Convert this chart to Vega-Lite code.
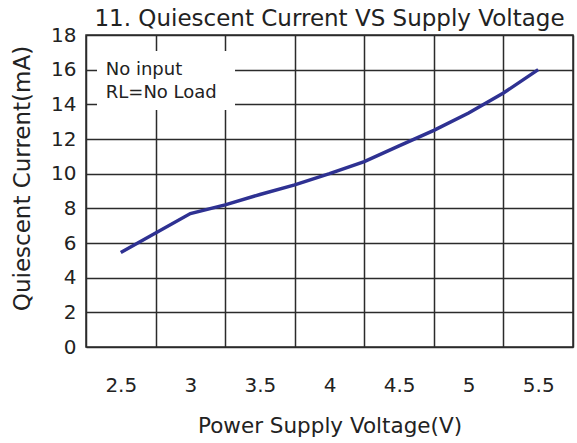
{
  "$schema": "https://vega.github.io/schema/vega-lite/v6.json",
  "autosize": {"type": "none"},
  "width": 487,
  "height": 312,
  "padding": {"left": 86, "top": 35, "right": 4, "bottom": 96},
  "background": "white",
  "config": {
    "font": "DejaVu Sans",
    "view": {"stroke": "#2b2b2b", "strokeWidth": 1.5},
    "axis": {"labelFont": "DejaVu Sans", "titleFont": "DejaVu Sans", "labelColor": "#222", "titleColor": "#222", "titleFontWeight": "normal", "gridColor": "#2b2b2b", "gridWidth": 1.5, "gridOpacity": 1, "labelOverlap": false}
  },
  "title": {"text": "11. Quiescent Current VS Supply Voltage", "fontSize": 23, "fontWeight": "normal", "color": "#222", "anchor": "middle", "offset": -6, "font": "DejaVu Sans"},
  "datasets": {
    "curve": [
      {"voltage": 2.5, "current": 5.45},
      {"voltage": 3.0, "current": 7.7},
      {"voltage": 3.25, "current": 8.2},
      {"voltage": 3.5, "current": 8.8},
      {"voltage": 3.75, "current": 9.35},
      {"voltage": 4.0, "current": 10.0},
      {"voltage": 4.25, "current": 10.7},
      {"voltage": 4.5, "current": 11.6},
      {"voltage": 4.75, "current": 12.5},
      {"voltage": 5.0, "current": 13.5},
      {"voltage": 5.25, "current": 14.65},
      {"voltage": 5.5, "current": 16.0}
    ],
    "notes": [
      {"label": "No input", "voltage": 2.392, "current": 16.0},
      {"label": "RL=No Load", "voltage": 2.392, "current": 14.67}
    ],
    "box": [
      {"voltage": 2.329, "voltage_end": 3.321, "current": 13.67, "current_end": 17.08}
    ]
  },
  "encoding": {
    "x": {"field": "voltage", "type": "quantitative", "scale": {"domain": [2.25, 5.75], "nice": false, "zero": false},
      "axis": {
        "values": [2.25, 2.5, 2.75, 3.0, 3.25, 3.5, 3.75, 4.0, 4.25, 4.5, 4.75, 5.0, 5.25, 5.5, 5.75],
        "format": "~g",
        "labelExpr": "round(datum.value*4)%2==1 ? '' : datum.label",
        "gridOpacity": {"condition": {"test": "round(datum.value*4)%2==1", "value": 1}, "value": 0},
        "ticks": false, "domain": false, "labelFontSize": 20, "labelPadding": 28, "labelFlush": false, "labelOverlap": false,
        "title": "Power Supply Voltage(V)", "titleFontSize": 21.5, "titlePadding": 20
      }},
    "y": {"field": "current", "type": "quantitative", "scale": {"domain": [0, 18], "nice": false},
      "axis": {
        "values": [0, 2, 4, 6, 8, 10, 12, 14, 16, 18],
        "ticks": false, "domain": false, "labelFontSize": 20, "labelPadding": 10, "labelFlush": false, "labelOverlap": false,
        "title": "Quiescent Current(mA)", "titleFontSize": 23, "titleAngle": 270, "titleX": -64, "titleY": 143, "titleAlign": "center", "titleBaseline": "middle"
      }}
  },
  "layer": [
    {
      "data": {"name": "box"},
      "mark": {"type": "rect", "color": "white", "stroke": null},
      "encoding": {
        "x2": {"field": "voltage_end"},
        "y2": {"field": "current_end"}
      }
    },
    {
      "data": {"name": "curve"},
      "mark": {"type": "line", "color": "#2e3192", "strokeWidth": 3.5},
      "encoding": {}
    },
    {
      "data": {"name": "notes"},
      "mark": {"type": "text", "align": "left", "baseline": "middle", "fontSize": 18, "color": "#222", "font": "DejaVu Sans"},
      "encoding": {
        "text": {"field": "label"}
      }
    }
  ]
}
